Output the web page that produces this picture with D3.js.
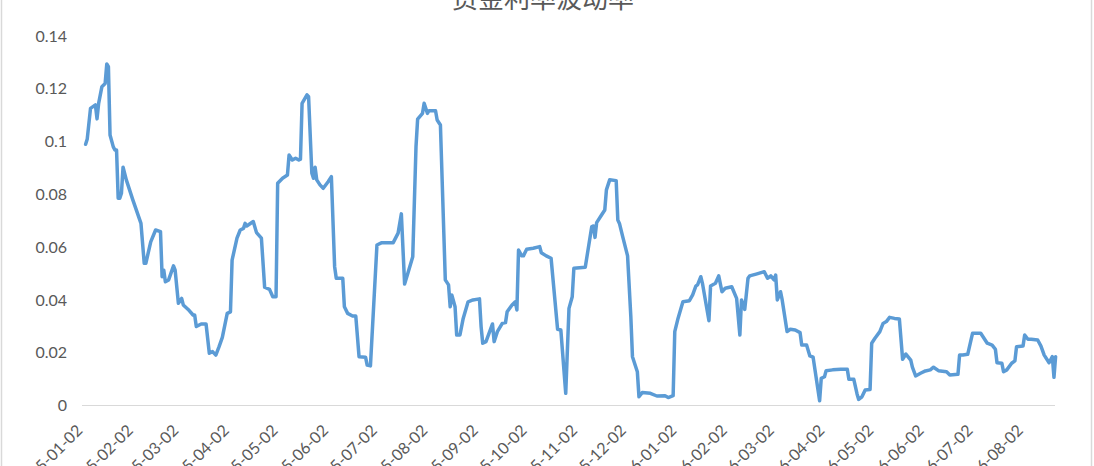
<!DOCTYPE html>
<html><head><meta charset="utf-8">
<script src="https://cdn.jsdelivr.net/npm/d3@7"></script>
<style>html,body{margin:0;padding:0;background:#fff;overflow:hidden}</style>
</head><body>
<svg id="c" width="1094" height="466"></svg>
<script>
const title = "资金利率波动率";
const dates = ["2015-01-03","2015-01-04","2015-01-06","2015-01-09","2015-01-10","2015-01-11","2015-01-13","2015-01-15","2015-01-16","2015-01-17","2015-01-18","2015-01-20","2015-01-21","2015-01-22","2015-01-23","2015-01-24","2015-01-25","2015-01-26","2015-01-28","2015-02-01","2015-02-06","2015-02-08","2015-02-09","2015-02-12","2015-02-15","2015-02-18","2015-02-19","2015-02-20","2015-02-21","2015-02-23","2015-02-26","2015-02-27","2015-03-01","2015-03-03","2015-03-04","2015-03-07","2015-03-10","2015-03-11","2015-03-12","2015-03-15","2015-03-18","2015-03-20","2015-03-22","2015-03-24","2015-03-26","2015-03-28","2015-03-31","2015-04-02","2015-04-03","2015-04-06","2015-04-08","2015-04-10","2015-04-11","2015-04-12","2015-04-16","2015-04-18","2015-04-21","2015-04-23","2015-04-26","2015-04-28","2015-04-30","2015-05-01","2015-05-04","2015-05-07","2015-05-08","2015-05-10","2015-05-12","2015-05-14","2015-05-15","2015-05-16","2015-05-19","2015-05-20","2015-05-22","2015-05-23","2015-05-24","2015-05-25","2015-05-27","2015-05-29","2015-06-01","2015-06-03","2015-06-05","2015-06-06","2015-06-10","2015-06-11","2015-06-13","2015-06-16","2015-06-18","2015-06-20","2015-06-24","2015-06-25","2015-06-27","2015-07-01","2015-07-04","2015-07-11","2015-07-14","2015-07-16","2015-07-18","2015-07-20","2015-07-23","2015-07-25","2015-07-26","2015-07-29","2015-07-30","2015-08-01","2015-08-02","2015-08-06","2015-08-07","2015-08-09","2015-08-12","2015-08-14","2015-08-15","2015-08-16","2015-08-18","2015-08-19","2015-08-21","2015-08-23","2015-08-26","2015-08-29","2015-09-02","2015-09-03","2015-09-04","2015-09-06","2015-09-10","2015-09-11","2015-09-13","2015-09-16","2015-09-18","2015-09-19","2015-09-22","2015-09-24","2015-09-25","2015-09-26","2015-09-28","2015-09-29","2015-10-01","2015-10-05","2015-10-09","2015-10-10","2015-10-13","2015-10-16","2015-10-20","2015-10-22","2015-10-25","2015-10-27","2015-10-29","2015-10-30","2015-11-06","2015-11-10","2015-11-11","2015-11-12","2015-11-13","2015-11-16","2015-11-18","2015-11-19","2015-11-21","2015-11-25","2015-11-26","2015-11-27","2015-11-29","2015-12-02","2015-12-04","2015-12-05","2015-12-08","2015-12-09","2015-12-11","2015-12-16","2015-12-20","2015-12-25","2015-12-27","2015-12-30","2015-12-31","2016-01-02","2016-01-05","2016-01-09","2016-01-11","2016-01-13","2016-01-14","2016-01-16","2016-01-17","2016-01-21","2016-01-22","2016-01-25","2016-01-27","2016-01-29","2016-01-31","2016-02-04","2016-02-07","2016-02-09","2016-02-10","2016-02-12","2016-02-14","2016-02-15","2016-02-19","2016-02-24","2016-02-26","2016-02-28","2016-03-01","2016-03-02","2016-03-03","2016-03-05","2016-03-06","2016-03-09","2016-03-11","2016-03-14","2016-03-17","2016-03-18","2016-03-21","2016-03-23","2016-03-25","2016-03-29","2016-03-30","2016-04-01","2016-04-02","2016-04-06","2016-04-11","2016-04-15","2016-04-16","2016-04-19","2016-04-21","2016-04-22","2016-04-24","2016-04-26","2016-04-29","2016-04-30","2016-05-02","2016-05-05","2016-05-07","2016-05-09","2016-05-11","2016-05-14","2016-05-17","2016-05-19","2016-05-21","2016-05-24","2016-05-25","2016-05-27","2016-05-30","2016-06-02","2016-06-05","2016-06-07","2016-06-10","2016-06-15","2016-06-17","2016-06-22","2016-06-23","2016-06-25","2016-06-28","2016-06-30","2016-07-01","2016-07-06","2016-07-10","2016-07-13","2016-07-15","2016-07-16","2016-07-19","2016-07-20","2016-07-22","2016-07-25","2016-07-27","2016-07-28","2016-08-01","2016-08-02","2016-08-04","2016-08-06","2016-08-10","2016-08-12","2016-08-14","2016-08-17","2016-08-19","2016-08-20","2016-08-21"];
const values = [0.099,0.101,0.1126,0.1139,0.1086,0.1145,0.1208,0.122,0.1294,0.1284,0.1025,0.098,0.0968,0.0968,0.0785,0.0785,0.0804,0.0903,0.0855,0.0779,0.069,0.0539,0.0539,0.062,0.0665,0.0659,0.0488,0.0513,0.0469,0.0476,0.0529,0.0513,0.0387,0.0406,0.0381,0.0364,0.0343,0.0343,0.0299,0.0309,0.0309,0.0198,0.0204,0.0191,0.0223,0.0258,0.0349,0.0355,0.0551,0.0634,0.0665,0.0671,0.069,0.068,0.0697,0.0655,0.0634,0.0448,0.044,0.0412,0.0412,0.0842,0.0861,0.0873,0.0949,0.093,0.0937,0.093,0.0933,0.1145,0.1177,0.117,0.088,0.0861,0.0903,0.0855,0.0836,0.0823,0.0848,0.0867,0.0526,0.0482,0.0482,0.0374,0.0349,0.0339,0.0339,0.0185,0.0183,0.0153,0.015,0.0608,0.0617,0.0617,0.0653,0.0726,0.046,0.0501,0.0564,0.0981,0.1085,0.1107,0.1145,0.1107,0.1117,0.1117,0.1082,0.1063,0.0476,0.0457,0.0374,0.0419,0.0374,0.0267,0.0267,0.033,0.0393,0.04,0.0404,0.0299,0.0236,0.0242,0.0309,0.0242,0.028,0.0311,0.0314,0.0355,0.0381,0.0393,0.0362,0.0589,0.0567,0.0567,0.0592,0.0596,0.0602,0.0579,0.0567,0.0558,0.0289,0.0286,0.0046,0.0368,0.0412,0.052,0.0524,0.0678,0.068,0.0637,0.0693,0.0722,0.0741,0.0817,0.0855,0.0852,0.0703,0.069,0.064,0.0567,0.0337,0.0185,0.0128,0.0033,0.0049,0.0046,0.0036,0.0037,0.003,0.0037,0.028,0.033,0.0393,0.0397,0.0419,0.0453,0.0457,0.0488,0.0463,0.0321,0.0453,0.0463,0.0491,0.0431,0.0444,0.045,0.0406,0.0267,0.04,0.0364,0.0482,0.0491,0.0498,0.0507,0.0482,0.0491,0.0476,0.0494,0.04,0.0431,0.04,0.028,0.0289,0.0286,0.0276,0.0229,0.0229,0.0188,0.0183,0.0018,0.0103,0.0109,0.0132,0.0135,0.0137,0.0137,0.0099,0.0099,0.0044,0.0023,0.0033,0.0059,0.0061,0.0236,0.0255,0.028,0.0311,0.0318,0.0334,0.033,0.0328,0.0175,0.0195,0.0172,0.0145,0.0112,0.0122,0.0131,0.0135,0.0145,0.0132,0.0128,0.0116,0.0118,0.0191,0.0191,0.0194,0.0248,0.0274,0.0274,0.0236,0.0229,0.0213,0.0162,0.016,0.0128,0.0135,0.016,0.0169,0.0223,0.0225,0.0267,0.0251,0.0251,0.0248,0.0225,0.0191,0.0162,0.0185,0.0107,0.0185];
const xTickLabels = ["2015-01-02","2015-02-02","2015-03-02","2015-04-02","2015-05-02","2015-06-02","2015-07-02","2015-08-02","2015-09-02","2015-10-02","2015-11-02","2015-12-02","2016-01-02","2016-02-02","2016-03-02","2016-04-02","2016-05-02","2016-06-02","2016-07-02","2016-08-02"];
const yTicks = [0,0.02,0.04,0.06,0.08,0.1,0.12,0.14];
const yTickLabels = ["0","0.02","0.04","0.06","0.08","0.1","0.12","0.14"];

const parse = d3.utcParse("%Y-%m-%d");
const data = dates.map((d,i)=>({date:parse(d), v:values[i]}));

const svg = d3.select("#c");
const x = d3.scaleUtc().domain([parse("2015-01-02"), parse("2016-08-21")]).range([84, 1055.6]);
const y = d3.scaleLinear().domain([0,0.14]).range([405.5, 36]);

// outer border
svg.append("rect").attr("x",1.5).attr("y",-10).attr("width",1090).attr("height",490)
  .attr("fill","none").attr("stroke","#d9d9d9").attr("stroke-width",1.5);

// title
svg.append("text").attr("x",543).attr("y",8).attr("text-anchor","middle")
  .attr("font-family","'Noto Sans CJK SC'").attr("font-size",26).attr("fill","#595959")
  .text(title);

// y axis labels
const yAxis = d3.axisLeft(y).tickValues(yTicks).tickSize(0).tickPadding(0)
  .tickFormat((d,i)=>yTickLabels[i]);
const gy = svg.append("g").attr("transform","translate(67,0)").call(yAxis);
gy.select(".domain").remove();
gy.selectAll("text").attr("font-family","Lato, 'Open Sans', sans-serif").attr("font-size",16).attr("fill","#595959");

// x axis line
svg.append("line").attr("x1",82).attr("x2",1055).attr("y1",y(0)).attr("y2",y(0))
  .attr("stroke","#d9d9d9").attr("stroke-width",1);

// x labels
const xAxis = d3.axisBottom(x).tickValues(xTickLabels.map(parse)).tickSize(0)
  .tickFormat((d,i)=>xTickLabels[i]);
const gx = svg.append("g").attr("transform",`translate(0,${y(0)})`).call(xAxis);
gx.select(".domain").remove();
gx.selectAll("text").attr("font-family","Lato, 'Open Sans', sans-serif").attr("font-size",16).attr("fill","#595959")
  .attr("text-anchor","end").attr("dy",0).attr("y",0)
  .attr("transform","translate(-1,26) rotate(-45)");

// line
const line = d3.line().x(d=>x(d.date)).y(d=>y(d.v));
svg.append("path").datum(data).attr("d",line).attr("fill","none")
  .attr("stroke","#5B9BD5").attr("stroke-width",3.5).attr("stroke-linejoin","round").attr("stroke-linecap","round");
</script>
</body></html>
